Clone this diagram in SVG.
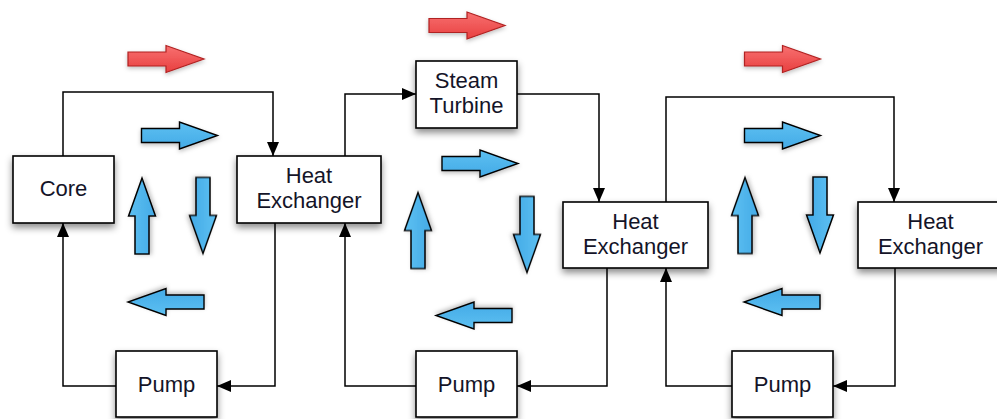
<svg xmlns="http://www.w3.org/2000/svg" width="997" height="419" viewBox="0 0 997 419">
<style>
.box{fill:#fff;stroke:#000;stroke-width:1.6;filter:url(#sh)}
.lbl{font-family:"Liberation Sans",Arial,sans-serif;font-size:22px;fill:#141428;text-anchor:middle}
.con{fill:none;stroke:#000;stroke-width:1.5}
.blue{fill:url(#gb);stroke:#000;stroke-width:1.4;filter:url(#sa)}
.red{fill:url(#gr);stroke:#b02020;stroke-width:1.2;filter:url(#sa)}
</style>
<defs>
<filter id="sh" x="-20%" y="-20%" width="150%" height="160%">
<feDropShadow dx="0" dy="4" stdDeviation="3.5" flood-color="#000" flood-opacity="0.45"/>
</filter>
<filter id="sa" x="-20%" y="-30%" width="140%" height="170%">
<feDropShadow dx="0" dy="2" stdDeviation="2" flood-color="#000" flood-opacity="0.25"/>
</filter>
<linearGradient id="gb" x1="0" y1="0" x2="0" y2="1">
<stop offset="0" stop-color="#5cc0f2"/><stop offset="1" stop-color="#44aae6"/>
</linearGradient>
<linearGradient id="gr" x1="0" y1="0" x2="0" y2="1">
<stop offset="0" stop-color="#f87070"/><stop offset="1" stop-color="#e84040"/>
</linearGradient>
<path id="ar" d="M-38,-7 H0 V-13.5 L38,0 L0,13.5 V7 H-38 Z"/>
<marker id="ah" markerUnits="userSpaceOnUse" markerWidth="14" markerHeight="12" refX="14" refY="6" orient="auto">
<path d="M0,0 L14,6 L0,12 Z" fill="#000"/>
</marker>
</defs>
<rect width="997" height="419" fill="#fff"/>

<g id="flow-arrows">
<use href="#ar" class="red" transform="translate(166,59)"/>
<use href="#ar" class="red" transform="translate(467,25.5)"/>
<use href="#ar" class="red" transform="translate(782.5,59)"/>
<use href="#ar" class="blue" transform="translate(179.5,135.5)"/>
<use href="#ar" class="blue" transform="translate(480,163.5)"/>
<use href="#ar" class="blue" transform="translate(782.5,135.5)"/>
<use href="#ar" class="blue" transform="translate(166,302) rotate(180)"/>
<use href="#ar" class="blue" transform="translate(474,315.5) rotate(180)"/>
<use href="#ar" class="blue" transform="translate(782,302) rotate(180)"/>
<use href="#ar" class="blue" transform="translate(142,216) rotate(-90)"/>
<use href="#ar" class="blue" transform="translate(418,230.5) rotate(-90)"/>
<use href="#ar" class="blue" transform="translate(745,215.5) rotate(-90)"/>
<use href="#ar" class="blue" transform="translate(203,215.5) rotate(90)"/>
<use href="#ar" class="blue" transform="translate(527,234.5) rotate(90)"/>
<use href="#ar" class="blue" transform="translate(820,215) rotate(90)"/>
</g>

<g id="connectors">
<path class="con" d="M63,156 V92 H273 V156" marker-end="url(#ah)"/>
<path class="con" d="M345,156 V94 H416" marker-end="url(#ah)"/>
<path class="con" d="M517,94 H599 V202" marker-end="url(#ah)"/>
<path class="con" d="M666,202 V97 H894 V202" marker-end="url(#ah)"/>
<path class="con" d="M275,223 V386 H217" marker-end="url(#ah)"/>
<path class="con" d="M116,386 H63 V223" marker-end="url(#ah)"/>
<path class="con" d="M607,268 V386 H517" marker-end="url(#ah)"/>
<path class="con" d="M416,386 H345 V223" marker-end="url(#ah)"/>
<path class="con" d="M895,268 V386 H833" marker-end="url(#ah)"/>
<path class="con" d="M732,386 H666 V268" marker-end="url(#ah)"/>
</g>

<g id="core">
<rect class="box" x="13" y="156" width="101" height="67"/>
<text class="lbl" x="63.5" y="196">Core</text>
</g>
<g id="hx1">
<rect class="box" x="237" y="156" width="144" height="67"/>
<text class="lbl" x="309" y="183">Heat</text>
<text class="lbl" x="309" y="208">Exchanger</text>
</g>
<g id="turbine">
<rect class="box" x="416" y="61" width="101" height="67"/>
<text class="lbl" x="466.5" y="88">Steam</text>
<text class="lbl" x="466.5" y="113">Turbine</text>
</g>
<g id="hx2">
<rect class="box" x="563" y="202" width="145" height="66"/>
<text class="lbl" x="635.5" y="229">Heat</text>
<text class="lbl" x="635.5" y="254">Exchanger</text>
</g>
<g id="hx3">
<rect class="box" x="858" y="202" width="145" height="66"/>
<text class="lbl" x="930.5" y="229">Heat</text>
<text class="lbl" x="930.5" y="254">Exchanger</text>
</g>
<g id="pump1">
<rect class="box" x="116" y="351" width="101" height="66"/>
<text class="lbl" x="166.5" y="392">Pump</text>
</g>
<g id="pump2">
<rect class="box" x="416" y="351" width="101" height="66"/>
<text class="lbl" x="466.5" y="392">Pump</text>
</g>
<g id="pump3">
<rect class="box" x="732" y="351" width="101" height="66"/>
<text class="lbl" x="782.5" y="392">Pump</text>
</g>
</svg>
